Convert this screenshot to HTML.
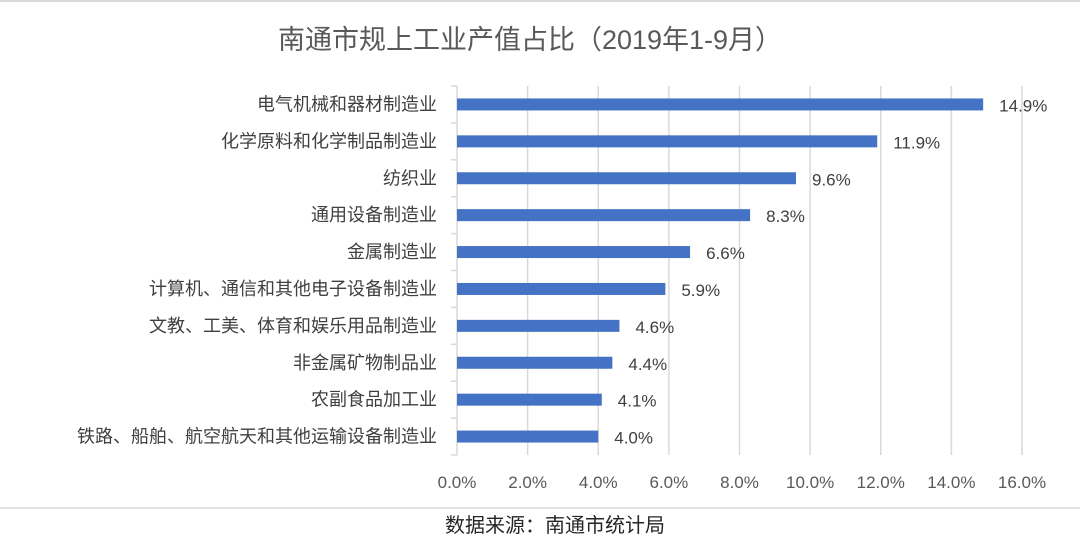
<!DOCTYPE html>
<html><head><meta charset="utf-8"><style>
body{margin:0;background:#fff;}
svg{display:block;font-family:"Liberation Sans","Noto Sans CJK SC",sans-serif;}
</style></head><body>
<svg id="chart" width="1080" height="542" viewBox="0 0 1080 542" xmlns="http://www.w3.org/2000/svg">
<line x1="0" y1="1" x2="1080" y2="1" stroke="#d9d9d9" stroke-width="2"/>
<text x="530" y="49" text-anchor="middle" font-size="27" fill="#595959">南通市规上工业产值占比（2019年1-9月）</text>
<g id="grid"></g><g id="bars"></g><g id="labels"></g>
<line x1="0" y1="508" x2="1080" y2="508" stroke="#d9d9d9" stroke-width="1.5"/>
<text x="445" y="532" font-size="20" fill="#262626">数据来源：南通市统计局</text>
</svg>
<script>
const categories=["电气机械和器材制造业","化学原料和化学制品制造业","纺织业","通用设备制造业","金属制造业","计算机、通信和其他电子设备制造业","文教、工美、体育和娱乐用品制造业","非金属矿物制品业","农副食品加工业","铁路、船舶、航空航天和其他运输设备制造业"];
const values=[14.9,11.9,9.6,8.3,6.6,5.9,4.6,4.4,4.1,4.0];
const ticks=[0,2,4,6,8,10,12,14,16];
const tickLabels=["0.0%","2.0%","4.0%","6.0%","8.0%","10.0%","12.0%","14.0%","16.0%"];
const NS="http://www.w3.org/2000/svg";
const plotX0=457,plotX1=1022,plotTop=86,plotBottom=455;
const xs=v=>plotX0+(v-0)/(16-0)*(plotX1-plotX0);
const band=(plotBottom-plotTop)/categories.length;
const yc=i=>plotTop+band*(i+0.5);
function mk(t,a,p){const e=document.createElementNS(NS,t);for(const k in a)e.setAttribute(k,a[k]);p.appendChild(e);return e;}
const g=document.getElementById('grid'),b=document.getElementById('bars'),l=document.getElementById('labels');
ticks.forEach((t,i)=>{
 if(i>0){const ln=mk('line',{x1:xs(t),x2:xs(t),y1:plotTop,y2:plotBottom,stroke:'#d9d9d9','stroke-width':1.5},g);
 
 }
 const tx=mk('text',{x:xs(t),y:488,'text-anchor':'middle','font-size':17,fill:'#595959'},l);
 tx.textContent=tickLabels[i];
 
 
});
const ax=mk('line',{x1:plotX0,x2:plotX0,y1:plotTop,y2:plotBottom,stroke:'#d9d9d9','stroke-width':1.5},g);


for(let i=0;i<=categories.length;i++){
 const tk=mk('line',{x1:plotX0-6,x2:plotX0,y1:plotTop+band*i,y2:plotTop+band*i,stroke:'#d9d9d9','stroke-width':1.5},g);
 
 
}
categories.forEach((c,i)=>{
 const r=mk('rect',{x:plotX0,y:yc(i)-6,width:xs(values[i])-plotX0,height:12,fill:'#4472c4'},b);
 
 
 const cl=mk('text',{x:437,y:yc(i)+6,'text-anchor':'end','font-size':18,fill:'#404040'},l);
 cl.textContent=c;
 
 
 const vl=mk('text',{x:xs(values[i])+16,y:yc(i)+7,'font-size':17,fill:'#404040'},l);
 vl.textContent=values[i].toFixed(1)+'%';
 
 
});
</script>
</body></html>
